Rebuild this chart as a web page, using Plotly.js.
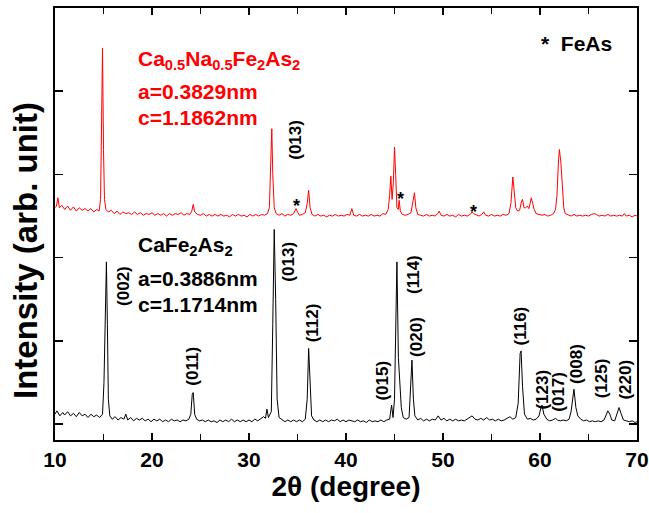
<!DOCTYPE html>
<html>
<head>
<meta charset="utf-8">
<script src="https://cdn.plot.ly/plotly-3.0.1.min.js"></script>
<style>html,body{margin:0;padding:0;background:#fff;}#chart{width:649px;height:513px;}</style>
</head>
<body>
<div id="chart"></div>
<script>
// CaFe2As2 pattern (2θ in degrees, intensity in arb. units)
const blackX = [10.0,10.2,10.5,10.8,11.0,11.3,11.6,11.9,12.2,12.5,12.8,13.1,13.4,13.7,14.0,14.3,14.6,14.9,15.05,15.2,15.3,15.4,15.5,15.65,15.9,16.2,16.5,16.8,17.1,17.3,17.5,17.8,18.1,18.4,18.7,19.0,19.3,19.6,19.9,20.2,20.5,20.8,21.1,21.4,21.7,22.0,22.3,22.6,22.9,23.2,23.5,23.8,24.0,24.15,24.25,24.4,24.6,24.9,25.2,25.5,25.8,26.1,26.4,26.7,27.0,27.3,27.6,27.9,28.2,28.5,28.8,29.1,29.4,29.7,30.0,30.3,30.6,30.9,31.2,31.5,31.7,31.85,32.0,32.3,32.45,32.6,32.75,32.9,33.1,33.4,33.7,34.0,34.3,34.6,34.9,35.2,35.5,35.8,36.0,36.15,36.3,36.45,36.7,37.0,37.3,37.6,37.9,38.2,38.5,38.8,39.1,39.4,39.7,40.0,40.3,40.6,40.9,41.2,41.5,41.8,42.1,42.4,42.7,43.0,43.3,43.6,43.9,44.2,44.5,44.7,44.85,45.0,45.15,45.25,45.4,45.55,45.7,45.9,46.2,46.5,46.65,46.8,46.95,47.1,47.4,47.7,48.0,48.3,48.6,48.9,49.2,49.5,49.8,50.1,50.4,50.7,51.0,51.3,51.6,51.9,52.2,52.5,52.8,53.0,53.3,53.6,53.9,54.2,54.5,54.8,55.1,55.4,55.7,56.0,56.3,56.6,56.9,57.2,57.5,57.75,57.95,58.05,58.2,58.4,58.7,59.0,59.3,59.6,59.9,60.1,60.2,60.4,60.7,61.0,61.3,61.6,61.8,62.1,62.4,62.7,63.0,63.2,63.4,63.5,63.7,63.9,64.2,64.5,64.8,65.1,65.4,65.7,66.0,66.3,66.6,66.85,67.0,67.2,67.4,67.7,67.95,68.15,68.35,68.6,68.9,69.2,69.5,69.8,70.0];
const blackY = [0.12,0.16,0.10,0.14,0.11,0.15,0.10,0.13,0.09,0.14,0.10,0.12,0.08,0.12,0.09,0.11,0.08,0.12,0.5,1.6,1.95,1.2,0.3,0.10,0.06,0.09,0.05,0.08,0.06,0.12,0.05,0.08,0.04,0.07,0.05,0.07,0.04,0.06,0.03,0.06,0.04,0.06,0.03,0.05,0.03,0.06,0.04,0.05,0.03,0.05,0.04,0.06,0.12,0.36,0.38,0.12,0.06,0.04,0.05,0.03,0.05,0.03,0.04,0.02,0.05,0.03,0.05,0.03,0.06,0.03,0.05,0.03,0.05,0.03,0.05,0.03,0.06,0.04,0.06,0.09,0.07,0.18,0.08,0.15,1.2,2.34,1.5,0.3,0.08,0.05,0.03,0.05,0.03,0.05,0.03,0.05,0.03,0.06,0.3,0.91,0.5,0.1,0.05,0.03,0.05,0.03,0.05,0.03,0.05,0.04,0.06,0.03,0.05,0.03,0.05,0.04,0.03,0.05,0.03,0.04,0.02,0.05,0.03,0.04,0.03,0.05,0.03,0.05,0.06,0.23,0.08,0.3,1.6,1.95,0.8,0.5,0.2,0.08,0.06,0.08,0.45,0.77,0.3,0.1,0.05,0.07,0.04,0.06,0.04,0.06,0.05,0.1,0.05,0.07,0.04,0.06,0.04,0.06,0.04,0.05,0.04,0.06,0.08,0.10,0.06,0.05,0.07,0.05,0.08,0.05,0.06,0.04,0.06,0.04,0.05,0.07,0.09,0.06,0.08,0.25,0.85,0.88,0.45,0.12,0.06,0.07,0.05,0.06,0.1,0.2,0.23,0.12,0.06,0.04,0.05,0.07,0.05,0.04,0.05,0.04,0.06,0.15,0.38,0.42,0.2,0.1,0.06,0.04,0.05,0.03,0.04,0.03,0.04,0.03,0.05,0.13,0.16,0.12,0.05,0.04,0.12,0.2,0.13,0.05,0.04,0.03,0.04,0.02,0.03];

// Ca0.5Na0.5Fe2As2 pattern (offset vertically)
const redX = [10.0,10.15,10.3,10.45,10.7,11.0,11.3,11.6,11.9,12.2,12.5,12.8,13.1,13.4,13.7,14.0,14.3,14.55,14.7,14.8,14.9,15.0,15.1,15.25,15.5,15.8,16.1,16.4,16.7,17.0,17.3,17.6,17.9,18.2,18.5,18.8,19.1,19.4,19.7,20.0,20.3,20.6,20.9,21.2,21.5,21.8,22.1,22.4,22.7,23.0,23.3,23.6,23.9,24.1,24.25,24.4,24.7,25.0,25.3,25.6,25.9,26.2,26.5,26.8,27.1,27.4,27.7,28.0,28.3,28.6,28.9,29.2,29.5,29.8,30.1,30.4,30.7,31.0,31.3,31.6,31.9,32.1,32.25,32.35,32.45,32.6,32.8,33.1,33.4,33.7,34.0,34.3,34.6,34.85,35.0,35.2,35.5,35.8,36.0,36.15,36.3,36.5,36.8,37.1,37.4,37.7,38.0,38.3,38.6,38.9,39.2,39.5,39.8,40.1,40.4,40.6,40.8,41.1,41.4,41.7,42.0,42.3,42.6,42.9,43.2,43.5,43.8,44.1,44.35,44.5,44.62,44.75,44.88,45.0,45.12,45.25,45.38,45.48,45.6,45.8,46.1,46.4,46.7,46.95,47.06,47.2,47.4,47.7,48.0,48.3,48.6,48.9,49.2,49.45,49.6,49.8,50.1,50.4,50.7,51.0,51.3,51.6,51.9,52.2,52.5,52.8,53.0,53.15,53.4,53.7,54.0,54.2,54.4,54.7,55.0,55.3,55.6,55.9,56.2,56.5,56.8,57.0,57.2,57.35,57.5,57.7,57.9,58.1,58.2,58.35,58.5,58.7,58.85,59.0,59.1,59.25,59.4,59.6,59.9,60.2,60.5,60.8,61.1,61.4,61.6,61.75,61.9,62.0,62.15,62.3,62.45,62.6,62.9,63.2,63.5,63.8,64.1,64.4,64.7,65.0,65.3,65.6,65.8,66.1,66.4,66.7,67.0,67.3,67.6,67.9,68.2,68.5,68.7,68.9,69.2,69.5,69.8,70.0];
const redY = [2.60,2.62,2.72,2.60,2.63,2.58,2.62,2.57,2.61,2.56,2.60,2.57,2.59,2.56,2.59,2.55,2.58,2.56,2.7,4.0,4.52,3.3,2.7,2.58,2.55,2.57,2.53,2.56,2.52,2.55,2.53,2.54,2.52,2.55,2.52,2.54,2.51,2.53,2.52,2.54,2.51,2.53,2.51,2.53,2.50,2.53,2.51,2.53,2.52,2.54,2.51,2.53,2.52,2.56,2.64,2.55,2.52,2.51,2.53,2.50,2.52,2.50,2.52,2.50,2.52,2.50,2.51,2.49,2.52,2.50,2.52,2.50,2.51,2.49,2.52,2.50,2.52,2.50,2.52,2.51,2.53,2.6,3.2,3.55,3.0,2.6,2.53,2.51,2.53,2.50,2.52,2.51,2.53,2.59,2.55,2.51,2.52,2.54,2.65,2.81,2.6,2.52,2.50,2.52,2.50,2.51,2.49,2.51,2.50,2.52,2.50,2.51,2.50,2.52,2.51,2.59,2.51,2.50,2.52,2.50,2.51,2.50,2.52,2.50,2.51,2.50,2.53,2.52,2.58,2.75,2.98,2.7,2.9,3.33,3.0,2.6,2.58,2.69,2.56,2.52,2.51,2.52,2.54,2.7,2.78,2.6,2.52,2.51,2.50,2.52,2.50,2.51,2.50,2.53,2.56,2.51,2.50,2.52,2.50,2.51,2.49,2.52,2.50,2.51,2.50,2.52,2.55,2.53,2.52,2.50,2.52,2.55,2.51,2.50,2.52,2.50,2.51,2.50,2.52,2.51,2.53,2.65,2.97,2.8,2.6,2.56,2.57,2.68,2.70,2.6,2.6,2.62,2.59,2.66,2.72,2.65,2.58,2.53,2.52,2.51,2.52,2.50,2.51,2.53,2.58,2.75,3.15,3.30,3.15,2.8,2.6,2.53,2.51,2.50,2.52,2.50,2.51,2.50,2.51,2.50,2.52,2.53,2.52,2.50,2.51,2.50,2.52,2.50,2.51,2.50,2.51,2.50,2.53,2.50,2.51,2.49,2.51,2.50];

// Miller index labels for CaFe2As2
const hklText = ["(002)","(011)","(013)","(112)","(015)","(114)","(020)","(116)","(123)","(017)","(008)","(125)","(220)"];
const hklX = [17.0,24.2,34.1,36.57,43.78,46.97,47.33,57.99,60.26,61.96,63.76,66.28,68.8];
const hklY = [1.66,0.70,1.95,1.22,0.52,1.80,1.05,1.18,0.41,0.39,0.73,0.55,0.54];

// FeAs impurity markers on the doped pattern
const starX = [34.88,45.58,53.13];
const starY = [2.62,2.71,2.55];

const font = "Liberation Sans, Arial, sans-serif";
const annotations = [];
hklText.forEach((t,i)=>annotations.push({x:hklX[i],y:hklY[i],text:t,textangle:-90,showarrow:false,
  font:{family:font,size:17,color:"#000",weight:"bold"}}));
starX.forEach((x,i)=>annotations.push({x:x,y:starY[i],text:"*",showarrow:false,
  font:{family:font,size:18,color:"#000",weight:"bold"}}));
annotations.push({x:34.77,y:3.42,text:"(013)",textangle:-90,showarrow:false,font:{family:font,size:17,color:"#000",weight:"bold"}});
const redLines = ["Ca<sub>0.5</sub>Na<sub>0.5</sub>Fe<sub>2</sub>As<sub>2</sub>","a=0.3829nm","c=1.1862nm"];
const redLineY = [4.37,4.0,3.68];
redLines.forEach((t,i)=>annotations.push({x:18.4,y:redLineY[i],text:t,xanchor:"left",showarrow:false,
  font:{family:font,size:21,color:"#ff0000",weight:"bold"}}));
const blackLines = ["CaFe<sub>2</sub>As<sub>2</sub>","a=0.3886nm","c=1.1714nm"];
const blackLineY = [2.14,1.75,1.44];
blackLines.forEach((t,i)=>annotations.push({x:18.4,y:blackLineY[i],text:t,xanchor:"left",showarrow:false,
  font:{family:font,size:21,color:"#000",weight:"bold"}}));
annotations.push({x:59.9,y:4.57,text:"*  FeAs",xanchor:"left",showarrow:false,font:{family:font,size:21,color:"#000",weight:"bold"}});
// y-axis title, placed as in the reference (slightly below the axis centre)
annotations.push({xref:"paper",yref:"paper",x:-0.0515,y:0.4375,xanchor:"center",yanchor:"middle",
  text:"Intensity (arb. unit)",textangle:-90,showarrow:false,
  font:{family:font,size:33,color:"#000",weight:"bold"}});

const data = [
  {x:blackX,y:blackY,type:"scatter",mode:"lines",line:{color:"#000",width:1},hoverinfo:"skip"},
  {x:redX,y:redY,type:"scatter",mode:"lines",line:{color:"#ff0000",width:1},hoverinfo:"skip"}
];
const layout = {
  width:649,height:513,
  margin:{l:55,r:12,t:8,b:73},
  paper_bgcolor:"#fff",plot_bgcolor:"#fff",
  showlegend:false,
  font:{family:font,color:"#000"},
  xaxis:{range:[10,70],tick0:10,dtick:10,ticks:"inside",ticklen:7,tickwidth:1.5,tickcolor:"#000",
    minor:{dtick:5,ticks:"inside",ticklen:6,tickwidth:1.5,tickcolor:"#000"},
    showline:true,linewidth:2,linecolor:"#000",mirror:"ticks",showgrid:false,zeroline:false,
    tickfont:{family:font,size:21,weight:"bold"},
    title:{text:"2θ (degree)",font:{family:font,size:28,weight:"bold"},standoff:6}},
  yaxis:{range:[-0.19,5.0],tick0:0,dtick:1,ticks:"inside",ticklen:8,tickwidth:1.5,tickcolor:"#000",
    showticklabels:false,showline:true,linewidth:2,linecolor:"#000",mirror:"ticks",showgrid:false,zeroline:false},
  annotations:annotations
};
Plotly.newPlot("chart",data,layout,{displayModeBar:false,staticPlot:true});
</script>
</body>
</html>
